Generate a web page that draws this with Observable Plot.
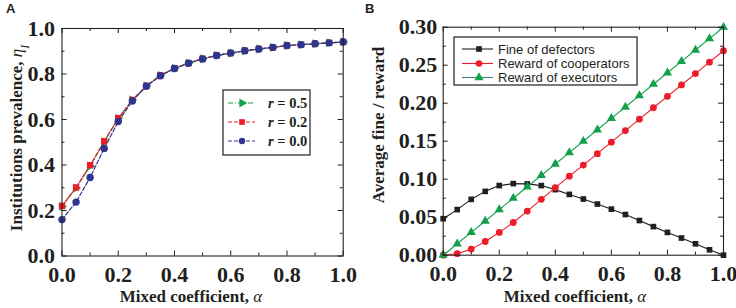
<!DOCTYPE html>
<html><head><meta charset="utf-8">
<script src="https://cdn.jsdelivr.net/npm/d3@7"></script>
<script src="https://cdn.jsdelivr.net/npm/@observablehq/plot@0.6"></script>
<style>
body{margin:0;background:#fff;}
#wrap{position:relative;width:736px;height:308px;display:flex;overflow:hidden;}
#wrap svg{flex:none;}
.lbl{position:absolute;font:bold 13px "Liberation Sans",Arial,sans-serif;top:1px;color:#231f20;}
</style></head><body>
<div id="wrap"><div class="lbl" style="left:6px">A</div><div class="lbl" style="left:365px">B</div></div>
<script>
// ---- data ----
const alpha = [0,0.05,0.1,0.15,0.2,0.25,0.3,0.35,0.4,0.45,0.5,0.55,0.6,0.65,0.7,0.75,0.8,0.85,0.9,0.95,1.0];
const etaR00 = [0.16,0.237,0.345,0.473,0.591,0.681,0.746,0.792,0.824,0.847,0.866,0.881,0.892,0.902,0.910,0.917,0.925,0.929,0.933,0.937,0.941];
const etaR02 = [0.22,0.301,0.399,0.504,0.606,0.686,0.748,0.794,0.825,0.848,0.867,0.882,0.892,0.902,0.910,0.917,0.925,0.929,0.933,0.937,0.941];
const etaR05 = [0.218,0.299,0.395,0.502,0.605,0.686,0.748,0.794,0.825,0.848,0.867,0.882,0.892,0.902,0.910,0.917,0.925,0.929,0.933,0.937,0.941];
const fineDefectors = [0.048,0.060,0.0735,0.084,0.0916,0.0942,0.0938,0.0916,0.0863,0.080,0.0739,0.0673,0.0606,0.0535,0.0456,0.0376,0.030,0.0226,0.015,0.0071,0.0];
const rewardCooperators = [0.0,0.002,0.008,0.018,0.030,0.043,0.058,0.0735,0.089,0.104,0.1186,0.1336,0.1487,0.164,0.179,0.194,0.209,0.224,0.239,0.254,0.269];
const rewardExecutors = [0.0,0.015,0.03,0.045,0.06,0.075,0.09,0.105,0.12,0.135,0.15,0.165,0.18,0.195,0.21,0.225,0.24,0.255,0.27,0.285,0.30];

const xTicks = [0,0.2,0.4,0.6,0.8,1.0];
const xMinor = [0.1,0.3,0.5,0.7,0.9];
const yTicksA = [0,0.2,0.4,0.6,0.8,1.0];
const yMinorA = [0.1,0.3,0.5,0.7,0.9];
const yTicksB = [0,0.05,0.10,0.15,0.20,0.25,0.30];
const yMinorB = [0.025,0.075,0.125,0.175,0.225,0.275];

const seriesA = [
  {name:"r = 0.5", key:"0.5", values:etaR05, color:"#12a04a", symbol:"triangle", dash:"5,2,1,2"},
  {name:"r = 0.2", key:"0.2", values:etaR02, color:"#ec1c2a", symbol:"square", dash:"4,2"},
  {name:"r = 0.0", key:"0.0", values:etaR00, color:"#2e3590", symbol:"circle", dash:"4,2"}
];
const seriesB = [
  {name:"Fine of defectors", values:fineDefectors, color:"#231f20", symbol:"square", legendLine:"#231f20"},
  {name:"Reward of cooperators", values:rewardCooperators, color:"#ec1c2a", symbol:"circle", legendLine:"#ec1c2a"},
  {name:"Reward of executors", values:rewardExecutors, color:"#12a04a", symbol:"triangle", legendLine:"#3f7f8f"}
];

const SERIF = "'Liberation Serif','Times New Roman',serif";
const SANS = "'Liberation Sans',Arial,sans-serif";
const INK = "#231f20";
const SYM_R = {circle: 3.7, square: 3.6, triangle: 3.3};

function frameTicks(xt, xm, yt, ym, iw, ih) {
  const M = 5, m = 3;
  return [
    Plot.tickX(xt, {x: d=>d, insetTop: ih - M, stroke: INK}),
    Plot.tickX(xt, {x: d=>d, insetBottom: ih - M, stroke: INK}),
    Plot.tickX(xm, {x: d=>d, insetTop: ih - m, stroke: INK}),
    Plot.tickX(xm, {x: d=>d, insetBottom: ih - m, stroke: INK}),
    Plot.tickY(yt, {y: d=>d, insetRight: iw - M, stroke: INK}),
    Plot.tickY(yt, {y: d=>d, insetLeft: iw - M, stroke: INK}),
    Plot.tickY(ym, {y: d=>d, insetRight: iw - m, stroke: INK}),
    Plot.tickY(ym, {y: d=>d, insetLeft: iw - m, stroke: INK}),
    Plot.frame({stroke: INK, strokeWidth: 1.1})
  ];
}

function addText(svg, x, y, rot, parts, size, family, anchor="middle") {
  const t = d3.select(svg).append("text")
    .attr("transform", `translate(${x},${y}) rotate(${rot})`)
    .attr("text-anchor", anchor)
    .style("font-family", family).style("font-size", size + "px")
    .style("font-weight", "bold").attr("fill", INK);
  for (const p of parts) {
    const s = t.append("tspan").text(p.t);
    if (p.i) s.style("font-style", "italic");
    if (p.w) s.style("font-weight", p.w);
    if (p.sub) s.attr("baseline-shift", "sub").style("font-size", (size*0.7)+"px");
  }
  return t;
}

function symbolPath(sym, r) {
  const area = Math.PI * r * r;
  const map = {circle: d3.symbolCircle, square: d3.symbolSquare, triangle: d3.symbolTriangle};
  return d3.symbol(map[sym], area)();
}

// ---- Panel A ----
const WA = 368, HA = 308;
const mA = {l:61.5, r:25.3, t:28, b:52.5};
const iwA = WA - mA.l - mA.r, ihA = HA - mA.t - mA.b;
const dataA = seriesA.flatMap(s => s.values.map((v,i) => ({a: alpha[i], v, s: s.key})));
const marksA = [];
for (const s of seriesA) {
  const d = dataA.filter(e => e.s === s.key);
  marksA.push(Plot.line(d, {x:"a", y:"v", stroke: s.color, strokeWidth: 1.2, strokeDasharray: s.dash}));
}
for (const s of seriesA) {
  const d = dataA.filter(e => e.s === s.key);
  marksA.push(Plot.dot(d, {x:"a", y:"v", fill: s.color, stroke: "none", symbol: s.symbol,
    r: SYM_R[s.symbol], rotate: s.symbol==="triangle" ? 90 : 0}));
}
const plotA = Plot.plot({
  width: WA, height: HA,
  marginLeft: mA.l, marginRight: mA.r, marginTop: mA.t, marginBottom: mA.b,
  x: {domain: [0,1]}, y: {domain: [0,1]},
  style: {fontFamily: SERIF, color: INK, background: "white"},
  marks: [
    ...marksA,
    ...frameTicks(xTicks, xMinor, yTicksA, yMinorA, iwA, ihA),
    Plot.axisX(xTicks, {tickFormat: d3.format(".1f"), tickSize: 0, tickPadding: 10, fontSize: 22, fontWeight: "bold", fontFamily: SERIF, label: null}),
    Plot.axisY(yTicksA, {tickFormat: d3.format(".1f"), tickSize: 0, tickPadding: 7, fontSize: 22, fontWeight: "bold", fontFamily: SERIF, label: null})
  ]
});
document.getElementById("wrap").appendChild(plotA);
addText(plotA, 191, 302, 0, [{t:"Mixed coefficient, "},{t:"α", i:true, w:"normal"}], 17, SERIF);
addText(plotA, 22, 138, -90, [{t:"Institutions prevalence, "},{t:"η", i:true, w:"normal"},{t:"I", i:true, w:"normal", sub:true}], 17, SERIF);
// legend A
{
  const g = d3.select(plotA).append("g");
  g.append("rect").attr("x", 223).attr("y", 90).attr("width", 87).attr("height", 65)
    .attr("fill", "white").attr("stroke", INK).attr("stroke-width", 1.2);
  const rows = [103, 122, 141];
  seriesA.forEach((s, k) => {
    const y = rows[k];
    g.append("line").attr("x1", 228).attr("x2", 255).attr("y1", y).attr("y2", y)
      .attr("stroke", s.color).attr("stroke-width", 1.2).attr("stroke-dasharray", s.dash);
    g.append("path").attr("d", symbolPath(s.symbol, s.symbol==="circle"?3.2:(s.symbol==="square"?3.2:3.4)))
      .attr("transform", `translate(242,${y}) rotate(${s.symbol==="triangle"?90:0})`).attr("fill", s.color);
    const t = g.append("text").attr("x", 268).attr("y", y + 5).attr("text-anchor", "start")
      .style("font-family", SERIF).style("font-size", "14.5px").style("font-weight", "bold").attr("fill", INK);
    t.append("tspan").text("r").style("font-style", "italic");
    t.append("tspan").text(" = " + s.key);
  });
}

// ---- Panel B ----
const WB = 368, HB = 308;
const mB = {l:74.7, r:13, t:26.7, b:53.3};
const iwB = WB - mB.l - mB.r, ihB = HB - mB.t - mB.b;
const dataB = seriesB.flatMap(s => s.values.map((v,i) => ({a: alpha[i], v, s: s.name})));
const marksB = [];
for (const s of seriesB) {
  const d = dataB.filter(e => e.s === s.name);
  marksB.push(Plot.line(d, {x:"a", y:"v", stroke: s.color, strokeWidth: 1.1}));
  marksB.push(Plot.dot(d, {x:"a", y:"v", fill: s.color, stroke: "none", symbol: s.symbol,
    r: s.symbol==="circle" ? 3.4 : (s.symbol==="square" ? 3.2 : 3.4)}));
}
const plotB = Plot.plot({
  width: WB, height: HB,
  marginLeft: mB.l, marginRight: mB.r, marginTop: mB.t, marginBottom: mB.b,
  x: {domain: [0,1]}, y: {domain: [0,0.3]},
  style: {fontFamily: SERIF, color: INK, background: "white"},
  marks: [
    ...marksB,
    ...frameTicks(xTicks, xMinor, yTicksB, yMinorB, iwB, ihB),
    Plot.axisX(xTicks, {tickFormat: d3.format(".1f"), tickSize: 0, tickPadding: 10, fontSize: 22, fontWeight: "bold", fontFamily: SERIF, label: null}),
    Plot.axisY(yTicksB, {tickFormat: d3.format(".2f"), tickSize: 0, tickPadding: 6, fontSize: 22, fontWeight: "bold", fontFamily: SERIF, label: null})
  ]
});
document.getElementById("wrap").appendChild(plotB);
addText(plotB, 207, 302, 0, [{t:"Mixed coefficient, "},{t:"α", i:true, w:"normal"}], 17, SERIF);
addText(plotB, 16, 125, -90, [{t:"Average fine / reward"}], 17, SERIF);
// legend B
{
  const g = d3.select(plotB).append("g");
  g.append("rect").attr("x", 86).attr("y", 37).attr("width", 183).attr("height", 48)
    .attr("fill", "white").attr("stroke", INK).attr("stroke-width", 1.2);
  const rows = [49, 63.5, 77.5];
  seriesB.forEach((s, k) => {
    const y = rows[k];
    g.append("line").attr("x1", 94).attr("x2", 125).attr("y1", y).attr("y2", y)
      .attr("stroke", s.legendLine).attr("stroke-width", 1.1);
    g.append("path").attr("d", symbolPath(s.symbol, s.symbol==="circle"?3.3:(s.symbol==="square"?3.2:3.4)))
      .attr("transform", `translate(111,${y})`).attr("fill", s.color);
    g.append("text").attr("x", 130).attr("y", y + 4.6).attr("text-anchor", "start").text(s.name)
      .style("font-family", SANS).style("font-size", "13px").attr("fill", INK);
  });
}
</script>
</body></html>
